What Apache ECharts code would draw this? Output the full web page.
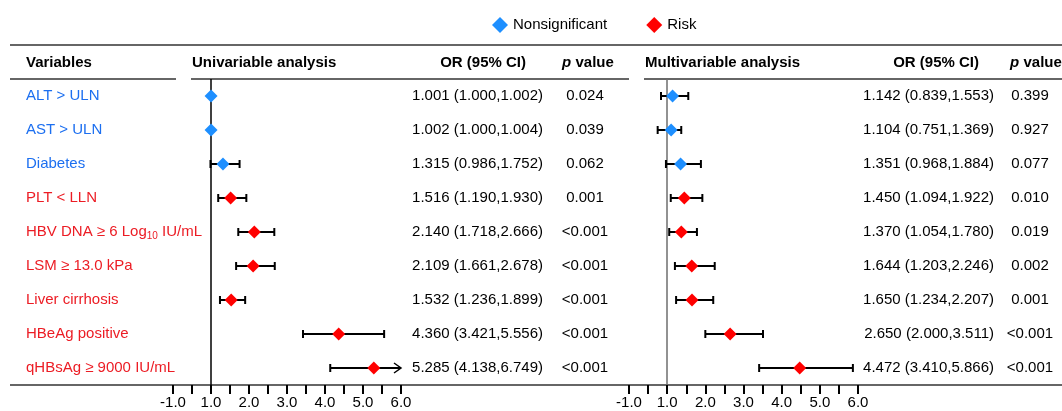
<!DOCTYPE html>
<html><head><meta charset="utf-8">
<script src="https://cdn.jsdelivr.net/npm/echarts@6/dist/echarts.min.js"></script>
<style>html,body{margin:0;padding:0;background:#fff}#c{width:1062px;height:411px}</style>
</head><body><div id="c"></div>
<script>
// ---------- data ----------
const variables = ['ALT > ULN','AST > ULN','Diabetes','PLT < LLN','HBV DNA ≥ 6 Log_{10} IU/mL','LSM ≥ 13.0 kPa','Liver cirrhosis','HBeAg positive','qHBsAg ≥ 9000 IU/mL'];
const groups = ['Nonsignificant','Nonsignificant','Nonsignificant','Risk','Risk','Risk','Risk','Risk','Risk'];

const uniOR   = [1.001,1.002,1.315,1.516,2.140,2.109,1.532,4.360,5.285];
const uniLow  = [1.000,1.000,0.986,1.190,1.718,1.661,1.236,3.421,4.138];
const uniHigh = [1.002,1.004,1.752,1.930,2.666,2.678,1.899,5.556,6.749];
const uniP    = ['0.024','0.039','0.062','0.001','<0.001','<0.001','<0.001','<0.001','<0.001'];

const multiOR   = [1.142,1.104,1.351,1.450,1.370,1.644,1.650,2.650,4.472];
const multiLow  = [0.839,0.751,0.968,1.094,1.054,1.203,1.234,2.000,3.410];
const multiHigh = [1.553,1.369,1.884,1.922,1.780,2.246,2.207,3.511,5.866];
const multiP    = ['0.399','0.927','0.077','0.010','0.019','0.002','0.001','<0.001','<0.001'];

const tickValues = [0,1,2,3,4,5,6];
const tickLabels = ['-1.0','1.0','2.0','3.0','4.0','5.0','6.0'];
const axisMin = 0, axisMax = 6, tickStep = 0.5, refValue = 1;

// ---------- styles ----------
const FONT = '"Liberation Sans", Arial, Helvetica, sans-serif';
const BLUE_TXT = '#1c6ff0', RED_TXT = '#ec1c24';
const BLUE_PT = '#1e8fff', RED_PT = '#ff0000';
const seriesColor = {Nonsignificant: BLUE_PT, Risk: RED_PT};

const richVar = {
  b:{color:BLUE_TXT,fontSize:15,fontFamily:FONT}, r:{color:RED_TXT,fontSize:15,fontFamily:FONT},
  bs:{color:BLUE_TXT,fontSize:10,fontFamily:FONT,padding:[8,0,0,0]}, rs:{color:RED_TXT,fontSize:10,fontFamily:FONT,padding:[8,0,0,0]}
};
function fmtVar(i){
  const k = groups[i]==='Risk' ? 'r' : 'b';
  const parts = variables[i].split(/_\{(\w+)\}/);
  return parts.map((p,j)=> p ? `{${j%2 ? k+'s' : k}|${p}}` : '').join('');
}
function orText(or, lo, hi, i){
  return `${or[i].toFixed(3)} (${lo[i].toFixed(3)},${hi[i].toFixed(3)})`;
}

function xAxisCfg(gi){
  return {gridIndex:gi, type:'value', min:axisMin, max:axisMax, interval:tickStep,
    axisLine:{show:false}, splitLine:{show:false},
    axisTick:{show:true, length:9, lineStyle:{color:'#000', width:2}},
    axisLabel:{margin:10, fontSize:15, color:'#000', fontFamily:FONT,
      formatter: v => { const i = tickValues.findIndex(t=>Math.abs(t-v)<1e-9); return i>=0 ? tickLabels[i] : ''; }}};
}
function yAxisCfg(gi, pos, margin, align, formatter, extra){
  return Object.assign({gridIndex:gi, type:'category', data:variables, inverse:true, position:pos,
    axisLine:{show:false}, axisTick:{show:false}, splitLine:{show:false},
    axisLabel:{interval:0, margin, align, fontSize:15, color:'#000', fontFamily:FONT, formatter}}, extra||{});
}

function errorSeries(low, high, xi, yi){
  return {type:'custom', xAxisIndex:xi, yAxisIndex:yi, z:2, silent:true,
    data: low.map((l,i)=>[l, high[i], i]),
    encode:{x:[0,1], y:2},
    renderItem:(params, api)=>{
      const lo = api.value(0), hi = api.value(1), idx = api.value(2);
      const clipped = hi > axisMax;
      const a = api.coord([lo, idx]), b = api.coord([Math.min(hi, axisMax), idx]);
      const h = 4;
      const st = {stroke:'#000', lineWidth:2, fill:null};
      const ch = [
        {type:'line', shape:{x1:a[0],y1:a[1],x2:b[0],y2:b[1]}, style:st},
        {type:'line', shape:{x1:a[0],y1:a[1]-h,x2:a[0],y2:a[1]+h}, style:st}
      ];
      if (clipped) ch.push({type:'polyline', shape:{points:[[b[0]-7,b[1]-5],[b[0],b[1]],[b[0]-7,b[1]+5]]}, style:{stroke:'#000', lineWidth:1.5, fill:null}});
      else ch.push({type:'line', shape:{x1:b[0],y1:b[1]-h,x2:b[0],y2:b[1]+h}, style:st});
      return {type:'group', children:ch};
    }};
}
function diamondSeries(name, or, xi, yi, refColor){
  const s = {type:'scatter', name, xAxisIndex:xi, yAxisIndex:yi, symbol:'diamond', symbolSize:13, z:3,
    itemStyle:{color:seriesColor[name], opacity:1},
    data: or.map((v,i)=> groups[i]===name ? [v,i] : null).filter(Boolean)};
  if (refColor) s.markLine = {silent:true, symbol:'none', label:{show:false}, z:1,
    lineStyle:{color:refColor, width:1.5, type:'solid'}, data:[{xAxis:refValue}]};
  return s;
}

function hline(x1,x2,y){ return {type:'line', silent:true, shape:{x1,y1:y,x2,y2:y}, style:{stroke:'#333', lineWidth:1.5}}; }
function txt(x,y,text,align,font){ return {type:'text', x, y, silent:true, style:{text, font, fill:'#000', textAlign:align, textVerticalAlign:'middle'}}; }
const BOLD = 'bold 15px ' + FONT, BOLDI = 'italic bold 15px ' + FONT;

const chart = echarts.init(document.getElementById('c'), null, {renderer:'canvas'});
chart.setOption({
  animation:false,
  backgroundColor:'#fff',
  textStyle:{fontFamily:FONT},
  legend:{top:12, left:487, itemWidth:16, itemHeight:16, itemGap:39, icon:'diamond',
    textStyle:{fontSize:15, color:'#000', fontFamily:FONT}, data:['Nonsignificant','Risk']},
  grid:[
    {left:173, width:228, top:79, height:306, containLabel:false},
    {left:629, width:229, top:79, height:306, containLabel:false}
  ],
  xAxis:[xAxisCfg(0), xAxisCfg(1)],
  yAxis:[
    yAxisCfg(0,'left',147,'left',(v,i)=>fmtVar(i),{axisLabel:{interval:0, margin:147, align:'left', fontSize:15, fontFamily:FONT, formatter:(v,i)=>fmtVar(i), rich:richVar}}),
    yAxisCfg(0,'right',142,'right',(v,i)=>orText(uniOR,uniLow,uniHigh,i)),
    yAxisCfg(0,'right',184,'center',(v,i)=>uniP[i]),
    yAxisCfg(1,'left',10,'right',()=>'',{axisLabel:{show:false}}),
    yAxisCfg(1,'right',136,'right',(v,i)=>orText(multiOR,multiLow,multiHigh,i)),
    yAxisCfg(1,'right',172,'center',(v,i)=>multiP[i])
  ],
  series:[
    errorSeries(uniLow, uniHigh, 0, 0),
    diamondSeries('Nonsignificant', uniOR, 0, 0, null),
    diamondSeries('Risk', uniOR, 0, 0, '#000'),
    errorSeries(multiLow, multiHigh, 1, 3),
    diamondSeries('Nonsignificant', multiOR, 1, 3, null),
    diamondSeries('Risk', multiOR, 1, 3, '#6e6e6e')
  ],
  graphic:[
    hline(10,1062,45),
    hline(10,176,79), hline(191,629,79), hline(644,1062,79),
    hline(10,1062,385),
    txt(26,63,'Variables','left',BOLD),
    txt(192,63,'Univariable analysis','left',BOLD),
    txt(526,63,'OR (95% CI)','right',BOLD),
    txt(562,63,'p','left',BOLDI),
    txt(575.5,63,'value','left',BOLD),
    txt(645,63,'Multivariable analysis','left',BOLD),
    txt(979,63,'OR (95% CI)','right',BOLD),
    txt(1010,63,'p','left',BOLDI),
    txt(1023.5,63,'value','left',BOLD)
  ]
});
</script>
</body></html>
